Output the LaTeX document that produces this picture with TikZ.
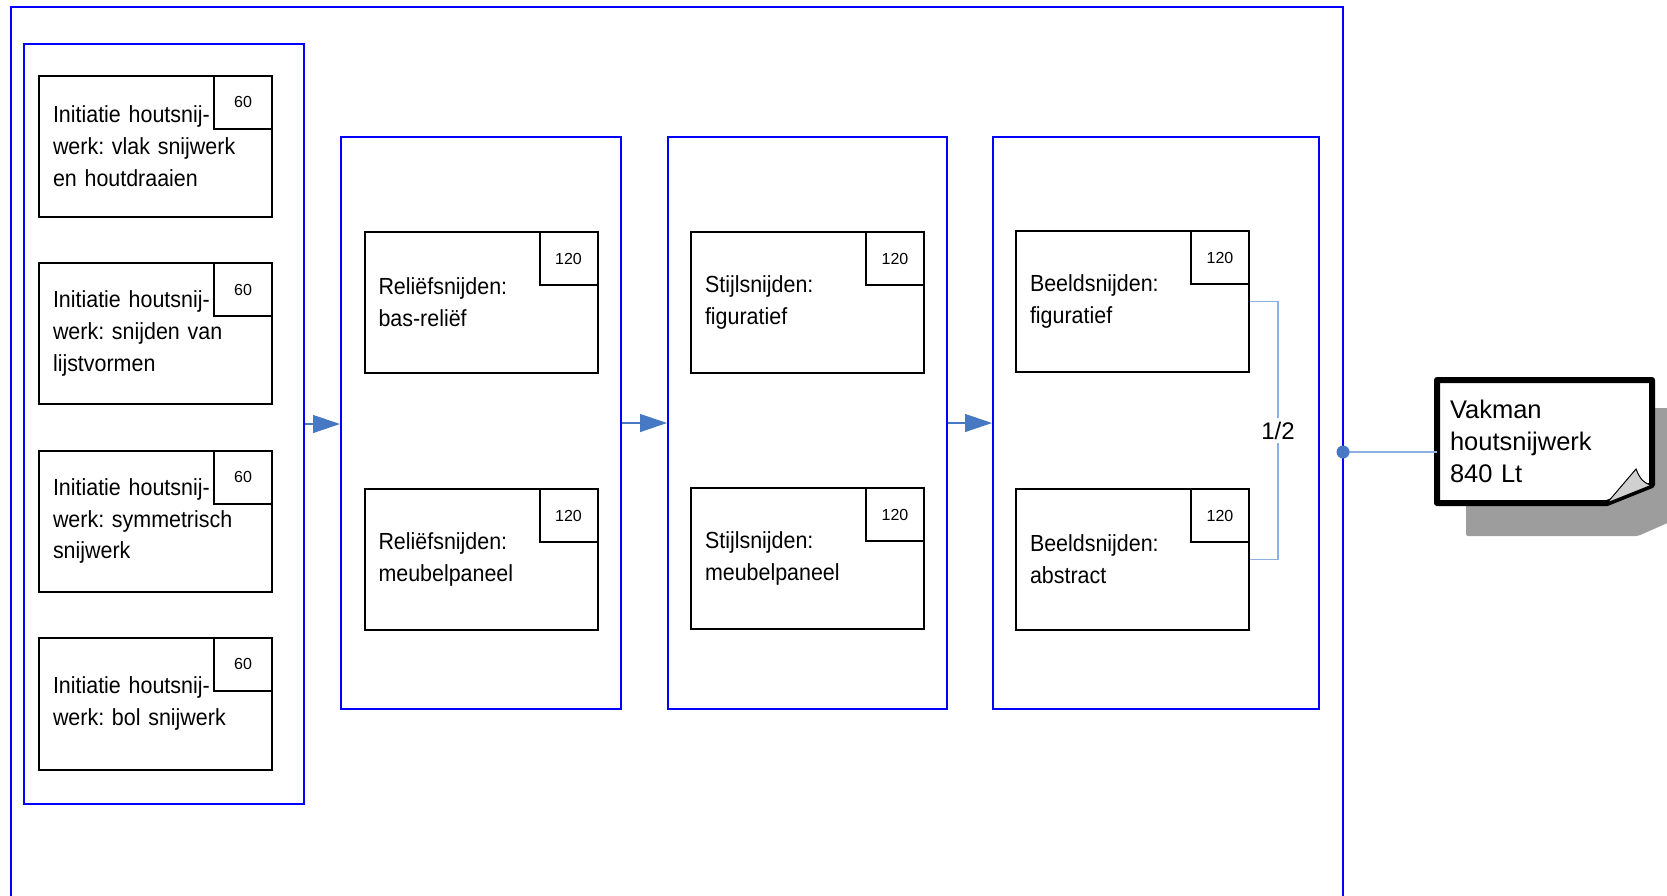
\documentclass[tikz,border=0pt]{standalone}
\usepackage{fontspec}
\setmainfont{Liberation Sans}
\newfontfamily\narrowfont[FakeStretch=0.92]{Liberation Sans}
\usetikzlibrary{arrows.meta,calc}
\frenchspacing

\definecolor{grpblue}{RGB}{0,0,255}
\definecolor{flowblue}{RGB}{71,120,196}
\definecolor{linkblue}{RGB}{141,176,226}
\definecolor{shadowgray}{RGB}{157,157,157}
\definecolor{curlgray}{RGB}{208,208,208}

\tikzset{ grp/.style = { rectangle % column of modules
        , draw = grpblue
        , line width = 2pt
        , inner sep = 0pt
        }
        , course/.style = { rectangle % module
        , draw
        , line width = 2pt
        , minimum width = 233pt
        , minimum height = 141pt
        , text width = 205pt
        , inner xsep = 14pt
        , align = left
        , font = \narrowfont\fontsize{23.3}{31.7}\selectfont
        }
        , hours/.style = { rectangle % study hours
        , draw
        , line width = 2pt
        , minimum width = 58pt
        , minimum height = 53pt
        , anchor = north east
        , font = \fontsize{16}{19}\selectfont
        }
        }

\begin{document}
\begin{tikzpicture}[x=1pt, y=-1pt,
        flow/.style={draw=flowblue, line width=1.3pt, -{Triangle[length=27pt,width=18pt]}},
        link/.style={draw=linkblue, line width=1.2pt},
        note/.style={rectangle, draw=none, outer sep=0pt, minimum width=215pt, minimum height=123pt,
                text width=189pt, inner xsep=13pt, align=left, font=\fontsize{25.5}{32}\selectfont}]
        \clip (0,0) rectangle (1667,895);

        % whole programme
        \draw [grp] (10.5,920) -- (10.5,6.5) -- (1343,6.5) -- (1343,920);
        \coordinate (hub) at (1343,452);

        % columns
        \node [grp, minimum width=280pt, minimum height=760pt] (g1) at (164,424) {};
        \node [grp, minimum width=280pt, minimum height=572pt] (g2) at (481,423) {};
        \node [grp, minimum width=279pt, minimum height=572pt] (g3) at (807.5,423) {};
        \node [grp, minimum width=326pt, minimum height=572pt] (g4) at (1156,423) {};

        % initiation
        \node [course] (c11) at (155.5,146) {Initiatie houtsnij-\\werk: vlak snijwerk\\en houtdraaien};
        \node [course] (c12) at (155.5,333.5) {Initiatie houtsnij-\\werk: snijden van\\lijstvormen};
        \node [course] (c13) at (155.5,521) {Initiatie houtsnij-\\werk: symmetrisch\\snijwerk};
        \node [course, minimum height=132pt] (c14) at (155.5,703.5) {Initiatie houtsnij-\\werk: bol snijwerk};
        \node [hours] (h11) at (c11.north east) {60};
        \node [hours] (h12) at (c12.north east) {60};
        \node [hours] (h13) at (c13.north east) {60};
        \node [hours] (h14) at (c14.north east) {60};

        \node [course] (c21) at (481,302.5) {Reliëfsnijden:\\bas-reliëf};
        \node [course] (c22) at (481,559.5) {Reliëfsnijden:\\meubelpaneel};
        \node [hours] (h21) at (c21.north east) {120};
        \node [hours] (h22) at (c22.north east) {120};

        \node [course] (c31) at (807.5,302.5) {Stijlsnijden:\\figuratief};
        \node [course] (c32) at (807.5,558.5) {Stijlsnijden:\\meubelpaneel};
        \node [hours] (h31) at (c31.north east) {120};
        \node [hours] (h32) at (c32.north east) {120};

        \node [course] (c41) at (1132.5,301.5) {Beeldsnijden:\\figuratief};
        \node [course] (c42) at (1132.5,559.5) {Beeldsnijden:\\abstract};
        \node [hours] (h41) at (c41.north east) {120};
        \node [hours] (h42) at (c42.north east) {120};

        % flow between columns
        \draw [flow] (g1.east) -- (g1.east -| g2.west);
        \draw [flow] (g2.east) -- (g2.east -| g3.west);
        \draw [flow] (g3.east) -- (g3.east -| g4.west);

        % choice 1 of 2
        \coordinate (brk) at (1278,0);
        \draw [link] (c41.east) -- (c41.east -| brk)
                -- node [fill=white, font=\fontsize{24}{28}\selectfont] {1/2} (c42.east -| brk) -- (c42.east);

        % qualification
        \node [note] (vak) at (1544.5,441.5) {};
        \fill [shadowgray, rounded corners=2pt] ($(vak.north west)+(29,28)$) -- ($(vak.north east)+(29,28)$)
                -- ($(vak.south east)+(29,14)$) -- ($(vak.south east)+(-14,33)$) -- ($(vak.south west)+(29,33)$) -- cycle;
        \draw [line width=6pt, line join=round, fill=white] (vak.north west) -- (vak.north east)
                -- ($(vak.south east)+(0,-18)$) -- ($(vak.south east)+(-45,0)$) -- (vak.south west) -- cycle;
        \draw [fill=curlgray, line width=1pt] ($(vak.south east)+(-45,0)$) -- ($(vak.south east)+(-16,-34)$)
                .. controls ($(vak.south east)+(-12,-24)$) and ($(vak.south east)+(-8,-19)$) .. ($(vak.south east)+(0,-18)$) -- cycle;
        \node [note] at (vak.center) {Vakman\\houtsnijwerk\\840 Lt};

        \draw [link] (hub) -- (hub -| vak.west);
        \fill [flowblue] (hub) circle (6.5pt);
\end{tikzpicture}
\end{document}
